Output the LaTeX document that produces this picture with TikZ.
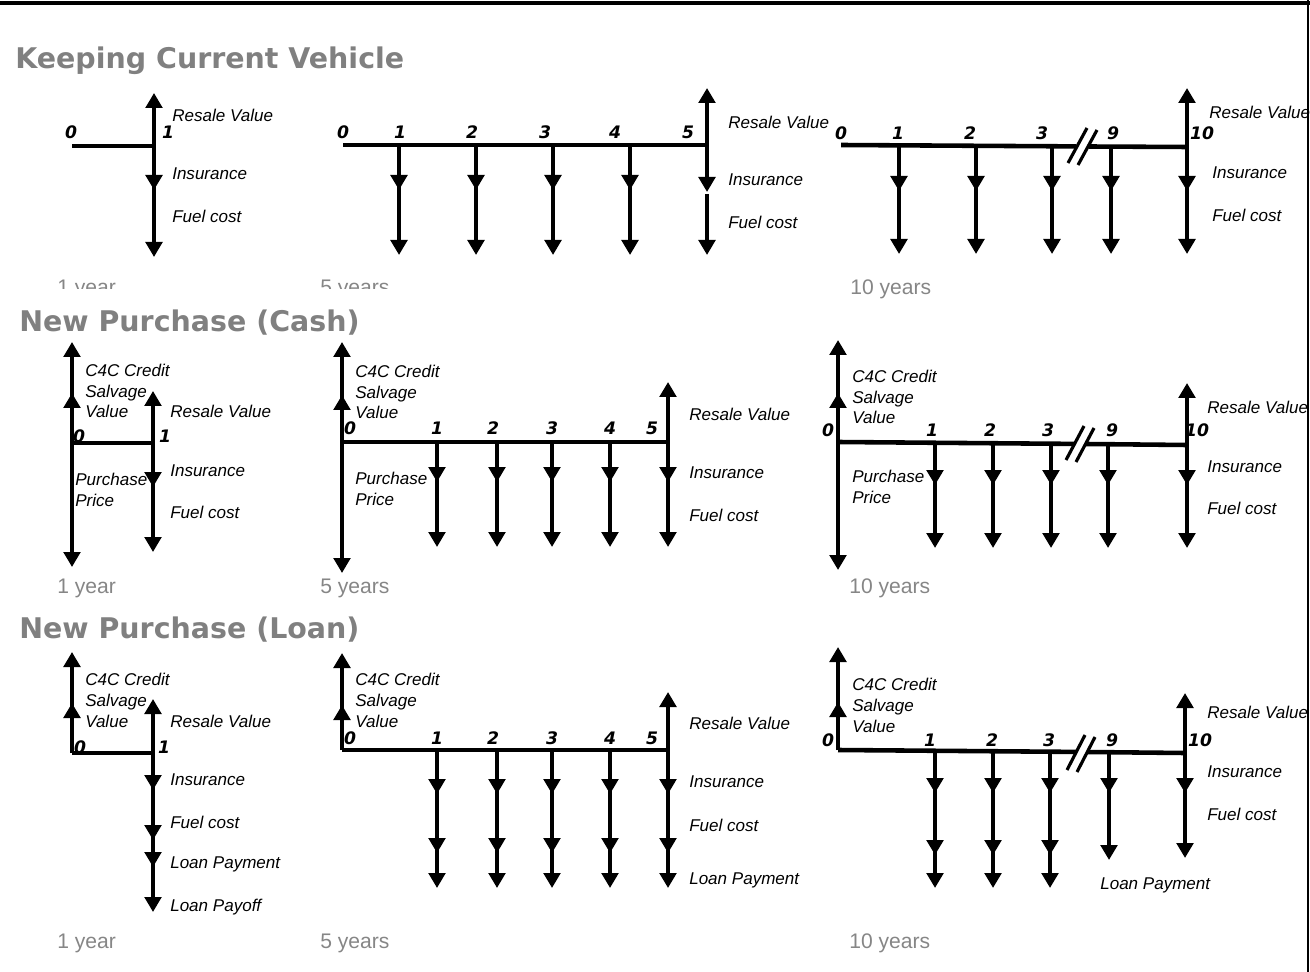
\documentclass[tikz,border=0pt]{standalone}
\usepackage{fontspec}
\setmainfont{Liberation Sans}
\newfontfamily\headfont{DejaVu Sans}
\usetikzlibrary{arrows.meta}
\definecolor{headG}{RGB}{128,128,128}
\definecolor{yearG}{RGB}{134,134,134}

\begin{document}
\begin{tikzpicture}[x=0.02cm,y=-0.02cm,line width=2.6pt,>={Triangle[length=3mm,width=3.3mm]},
  flow/.style={->},
  lbl/.style={anchor=west,inner sep=0pt,align=left,font=\fontsize{9.7}{11.9}\selectfont\itshape},
  num/.style={inner sep=0pt,font=\headfont\fontsize{9.8}{10}\selectfont\bfseries\itshape},
  head/.style={anchor=west,inner sep=0pt,text=headG,font=\headfont\fontsize{16.2}{18}\selectfont\bfseries},
  yrs/.style={anchor=west,inner sep=0pt,text=yearG,font=\fontsize{12}{14}\selectfont},
  brk/.style={line width=1.8pt}]
\useasboundingbox (0,0) rectangle (1310,972);
\draw[line width=1.8pt] (0,3) -- (1310,3);
\draw[line width=1.2pt] (1308,0) -- (1308,972);

%% Keeping Current Vehicle
\node[head] (tKeep) at (13,61) {Keeping Current Vehicle};
% 1 year
\coordinate (ka0) at (72,146); \coordinate (ka1) at (154,146);
\coordinate (ka1-u) at (154,93); \coordinate (ka1-m) at (154,190); \coordinate (ka1-e) at (154,257);
\draw (ka0) -- (ka1);
\draw[flow] (ka1) -- (ka1-u);
\draw[flow] (ka1) -- (ka1-m); \draw[flow] ([yshift=4pt]ka1-m) -- (ka1-e);
\node[num] (nka0) at (71,132) {0};
\node[num] (nka1) at (168,132) {1};
\node[lbl] (lka-r) at (170,115) {Resale Value};
\node[lbl] (lka-i) at (170,174) {Insurance};
\node[lbl] (lka-f) at (170,216) {Fuel cost};
% 5 years
\coordinate (kb0) at (343,145); \coordinate (kb5) at (707,145);
\draw (kb0) -- (kb5);
\foreach \n/\x/\lx in {1/399/400,2/476/472,3/553/545,4/630/615}{
  \coordinate (kb\n) at (\x,145); \coordinate (kb\n-m) at (\x,190); \coordinate (kb\n-e) at (\x,255);
  \draw[flow] (kb\n) -- (kb\n-m); \draw[flow] ([yshift=4pt]kb\n-m) -- (kb\n-e);
  \node[num] (nkb\n) at (\lx,132) {\n};
}
\coordinate (kb5-u) at (707,88); \coordinate (kb5-m) at (707,192); \coordinate (kb5-e) at (707,255);
\draw[flow] (kb5) -- (kb5-u);
\draw[flow] (kb5) -- (kb5-m); \draw[flow] ([yshift=-1pt]kb5-m) -- (kb5-e);
\node[num] (nkb0) at (343,132) {0};
\node[num] (nkb5) at (688,132) {5};
\node[lbl] (lkb-r) at (726,122) {Resale Value};
\node[lbl] (lkb-i) at (726,180) {Insurance};
\node[lbl] (lkb-f) at (726,222) {Fuel cost};
% 10 years
\coordinate (kc0) at (841,145); \coordinate (kc-bl) at (1076,146.4);
\coordinate (kc-br) at (1089,146.5); \coordinate (kc10) at (1187,147);
\draw (kc0) -- (kc-bl); \draw (kc-br) -- (kc10);
\draw[brk] (1068,163) -- (1087,128); \draw[brk] (1078,165) -- (1097,130);
\foreach \n/\x/\lx in {1/899/898,2/976/970,3/1052/1042,9/1111/1113}{
  \coordinate (kc\n) at (\x,146); \coordinate (kc\n-m) at (\x,191); \coordinate (kc\n-e) at (\x,254);
  \draw[flow] (kc\n) -- (kc\n-m); \draw[flow] ([yshift=4pt]kc\n-m) -- (kc\n-e);
  \node[num] (nkc\n) at (\lx,133) {\n};
}
\coordinate (kc10-u) at (1187,88); \coordinate (kc10-m) at (1187,191); \coordinate (kc10-e) at (1187,254);
\draw[flow] (kc10) -- (kc10-u);
\draw[flow] (kc10) -- (kc10-m); \draw[flow] ([yshift=4pt]kc10-m) -- (kc10-e);
\node[num] (nkc0) at (841,133) {0};
\node[num] (nkc10) at (1202,133) {10};
\node[lbl] (lkc-r) at (1207,112) {Resale Value};
\node[lbl] (lkc-i) at (1210,173) {Insurance};
\node[lbl] (lkc-f) at (1210,215) {Fuel cost};
\begin{scope}
\clip (0,260) rectangle (700,288.5);
\node[yrs] (yka) at (55,289) {1 year};
\node[yrs] (ykb) at (318,289) {5 years};
\end{scope}
\node[yrs] (ykc) at (848,289) {10 years};

%% New Purchase (Cash)
\node[head] (tCash) at (17,323) {New Purchase (Cash)};
% 1 year
\coordinate (ca0) at (72,443); \coordinate (ca1) at (153,443);
\coordinate (ca0-m) at (72,393); \coordinate (ca0-u) at (72,342); \coordinate (ca0-d) at (72,567);
\draw (ca0) -- (ca1);
\draw[flow] (ca0) -- (ca0-m); \draw[flow] ([yshift=-4pt]ca0-m) -- (ca0-u);
\draw[flow] (ca0) -- (ca0-d);
\coordinate (ca1-u) at (153,391); \coordinate (ca1-m) at (153,487); \coordinate (ca1-e) at (153,552);
\draw[flow] (ca1) -- (ca1-u);
\draw[flow] (ca1) -- (ca1-m); \draw[flow] ([yshift=4pt]ca1-m) -- (ca1-e);
\node[num] (nca0) at (79,436) {0};
\node[num] (nca1) at (165,436) {1};
\node[lbl] (lca-c) at (83,391) {C4C Credit\\Salvage\\Value};
\node[lbl] (lca-p) at (73,490) {Purchase\\Price};
\node[lbl] (lca-r) at (168,411) {Resale Value};
\node[lbl] (lca-i) at (168,471) {Insurance};
\node[lbl] (lca-f) at (168,512) {Fuel cost};
\node[yrs] (yca) at (55,588) {1 year};
% 5 years
\coordinate (cb0) at (342,442); \coordinate (cb5) at (668,442);
\coordinate (cb0-m) at (342,395); \coordinate (cb0-u) at (342,342); \coordinate (cb0-d) at (342,573);
\draw (cb0) -- (cb5);
\draw[flow] (cb0) -- (cb0-m); \draw[flow] ([yshift=-4pt]cb0-m) -- (cb0-u);
\draw[flow] (cb0) -- (cb0-d);
\foreach \n/\x/\lx in {1/437/437,2/497/493,3/552/552,4/610/610}{
  \coordinate (cb\n) at (\x,442); \coordinate (cb\n-m) at (\x,482); \coordinate (cb\n-e) at (\x,547);
  \draw[flow] (cb\n) -- (cb\n-m); \draw[flow] ([yshift=4pt]cb\n-m) -- (cb\n-e);
  \node[num] (ncb\n) at (\lx,428) {\n};
}
\coordinate (cb5-u) at (668,382); \coordinate (cb5-m) at (668,482); \coordinate (cb5-e) at (668,547);
\draw[flow] (cb5) -- (cb5-u);
\draw[flow] (cb5) -- (cb5-m); \draw[flow] ([yshift=4pt]cb5-m) -- (cb5-e);
\node[num] (ncb0) at (350,428) {0};
\node[num] (ncb5) at (652,428) {5};
\node[lbl] (lcb-c) at (353,392) {C4C Credit\\Salvage\\Value};
\node[lbl] (lcb-p) at (353,489) {Purchase\\Price};
\node[lbl] (lcb-r) at (687,414) {Resale Value};
\node[lbl] (lcb-i) at (687,473) {Insurance};
\node[lbl] (lcb-f) at (687,515) {Fuel cost};
\node[yrs] (ycb) at (318,588) {5 years};
% 10 years
\coordinate (cc0) at (838,442); \coordinate (cc-bl) at (1075,443.9);
\coordinate (cc-br) at (1086,444); \coordinate (cc10) at (1187,445);
\coordinate (cc0-m) at (838,393); \coordinate (cc0-u) at (838,340); \coordinate (cc0-d) at (838,570);
\draw (cc0) -- (cc-bl); \draw (cc-br) -- (cc10);
\draw[brk] (1066,460) -- (1084,426); \draw[brk] (1076,462) -- (1094,428);
\draw[flow] (cc0) -- (cc0-m); \draw[flow] ([yshift=-4pt]cc0-m) -- (cc0-u);
\draw[flow] (cc0) -- (cc0-d);
\foreach \n/\x/\lx in {1/935/932,2/993/990,3/1051/1048,9/1108/1112}{
  \coordinate (cc\n) at (\x,444); \coordinate (cc\n-m) at (\x,485); \coordinate (cc\n-e) at (\x,548);
  \draw[flow] (cc\n) -- (cc\n-m); \draw[flow] ([yshift=4pt]cc\n-m) -- (cc\n-e);
  \node[num] (ncc\n) at (\lx,430) {\n};
}
\coordinate (cc10-u) at (1187,383); \coordinate (cc10-m) at (1187,485); \coordinate (cc10-e) at (1187,548);
\draw[flow] (cc10) -- (cc10-u);
\draw[flow] (cc10) -- (cc10-m); \draw[flow] ([yshift=4pt]cc10-m) -- (cc10-e);
\node[num] (ncc0) at (828,430) {0};
\node[num] (ncc10) at (1197,430) {10};
\node[lbl] (lcc-c) at (850,397) {C4C Credit\\Salvage\\Value};
\node[lbl] (lcc-p) at (850,487) {Purchase\\Price};
\node[lbl] (lcc-r) at (1205,407) {Resale Value};
\node[lbl] (lcc-i) at (1205,467) {Insurance};
\node[lbl] (lcc-f) at (1205,508) {Fuel cost};
\node[yrs] (ycc) at (847,588) {10 years};

%% New Purchase (Loan)
\node[head] (tLoan) at (17,630) {New Purchase (Loan)};
% 1 year
\coordinate (la0) at (72,753); \coordinate (la1) at (153,753);
\coordinate (la0-m) at (72,703); \coordinate (la0-u) at (72,652);
\draw (la0) -- (la1);
\draw[flow] (la0) -- (la0-m); \draw[flow] ([yshift=-4pt]la0-m) -- (la0-u);
\coordinate (la1-u) at (153,699);
\coordinate (la1-a) at (153,790); \coordinate (la1-b) at (153,840);
\coordinate (la1-c) at (153,867); \coordinate (la1-e) at (153,912);
\draw[flow] (la1) -- (la1-u);
\draw[flow] (la1) -- (la1-a); \draw[flow] ([yshift=4pt]la1-a) -- (la1-b);
\draw[flow] ([yshift=4pt]la1-b) -- (la1-c); \draw[flow] ([yshift=4pt]la1-c) -- (la1-e);
\node[num] (nla0) at (80,747) {0};
\node[num] (nla1) at (164,747) {1};
\node[lbl] (lla-c) at (83,700) {C4C Credit\\Salvage\\Value};
\node[lbl] (lla-r) at (168,721) {Resale Value};
\node[lbl] (lla-i) at (168,780) {Insurance};
\node[lbl] (lla-f) at (168,822) {Fuel cost};
\node[lbl] (lla-p) at (168,864) {Loan Payment};
\node[lbl] (lla-o) at (168,907) {Loan Payoff};
\node[yrs] (yla) at (55,943) {1 year};
% 5 years
\coordinate (lb0) at (342,750); \coordinate (lb5) at (668,750);
\coordinate (lb0-m) at (342,705); \coordinate (lb0-u) at (342,653);
\draw (lb0) -- (lb5);
\draw[flow] (lb0) -- (lb0-m); \draw[flow] ([yshift=-4pt]lb0-m) -- (lb0-u);
\foreach \n/\x/\lx in {1/437/437,2/497/493,3/552/552,4/610/610,5/668/652}{
  \coordinate (lb\n) at (\x,750); \coordinate (lb\n-a) at (\x,794);
  \coordinate (lb\n-b) at (\x,853); \coordinate (lb\n-e) at (\x,888);
  \draw[flow] (lb\n) -- (lb\n-a); \draw[flow] ([yshift=4pt]lb\n-a) -- (lb\n-b);
  \draw[flow] ([yshift=4pt]lb\n-b) -- (lb\n-e);
  \node[num] (nlb\n) at (\lx,738) {\n};
}
\coordinate (lb5-u) at (668,692);
\draw[flow] (lb5) -- (lb5-u);
\node[num] (nlb0) at (350,738) {0};
\node[lbl] (llb-c) at (353,700) {C4C Credit\\Salvage\\Value};
\node[lbl] (llb-r) at (687,723) {Resale Value};
\node[lbl] (llb-i) at (687,782) {Insurance};
\node[lbl] (llb-f) at (687,825) {Fuel cost};
\node[lbl] (llb-p) at (687,880) {Loan Payment};
\node[yrs] (ylb) at (318,943) {5 years};
% 10 years
\coordinate (lc0) at (838,750); \coordinate (lc-bl) at (1076,751.9);
\coordinate (lc-br) at (1087,752); \coordinate (lc10) at (1185,753);
\coordinate (lc0-m) at (838,702); \coordinate (lc0-u) at (838,647);
\draw (lc0) -- (lc-bl); \draw (lc-br) -- (lc10);
\draw[brk] (1067,770) -- (1085,735); \draw[brk] (1077,772) -- (1095,737);
\draw[flow] (lc0) -- (lc0-m); \draw[flow] ([yshift=-4pt]lc0-m) -- (lc0-u);
\foreach \n/\x/\lx in {1/935/930,2/993/992,3/1050/1049}{
  \coordinate (lc\n) at (\x,752); \coordinate (lc\n-a) at (\x,793);
  \coordinate (lc\n-b) at (\x,855); \coordinate (lc\n-e) at (\x,888);
  \draw[flow] (lc\n) -- (lc\n-a); \draw[flow] ([yshift=4pt]lc\n-a) -- (lc\n-b);
  \draw[flow] ([yshift=4pt]lc\n-b) -- (lc\n-e);
  \node[num] (nlc\n) at (\lx,740) {\n};
}
\foreach \n/\x/\lx/\e in {9/1109/1112/860,10/1185/1200/858}{
  \coordinate (lc\n) at (\x,752); \coordinate (lc\n-a) at (\x,793); \coordinate (lc\n-e) at (\x,\e);
  \draw[flow] (lc\n) -- (lc\n-a); \draw[flow] ([yshift=4pt]lc\n-a) -- (lc\n-e);
  \node[num] (nlc\n) at (\lx,740) {\n};
}
\coordinate (lc10-u) at (1185,693);
\draw[flow] (lc10) -- (lc10-u);
\node[num] (nlc0) at (828,740) {0};
\node[lbl] (llc-c) at (850,705) {C4C Credit\\Salvage\\Value};
\node[lbl] (llc-r) at (1205,712) {Resale Value};
\node[lbl] (llc-i) at (1205,772) {Insurance};
\node[lbl] (llc-f) at (1205,814) {Fuel cost};
\node[lbl] (llc-p) at (1098,885) {Loan Payment};
\node[yrs] (ylc) at (847,943) {10 years};
\end{tikzpicture}
\end{document}
